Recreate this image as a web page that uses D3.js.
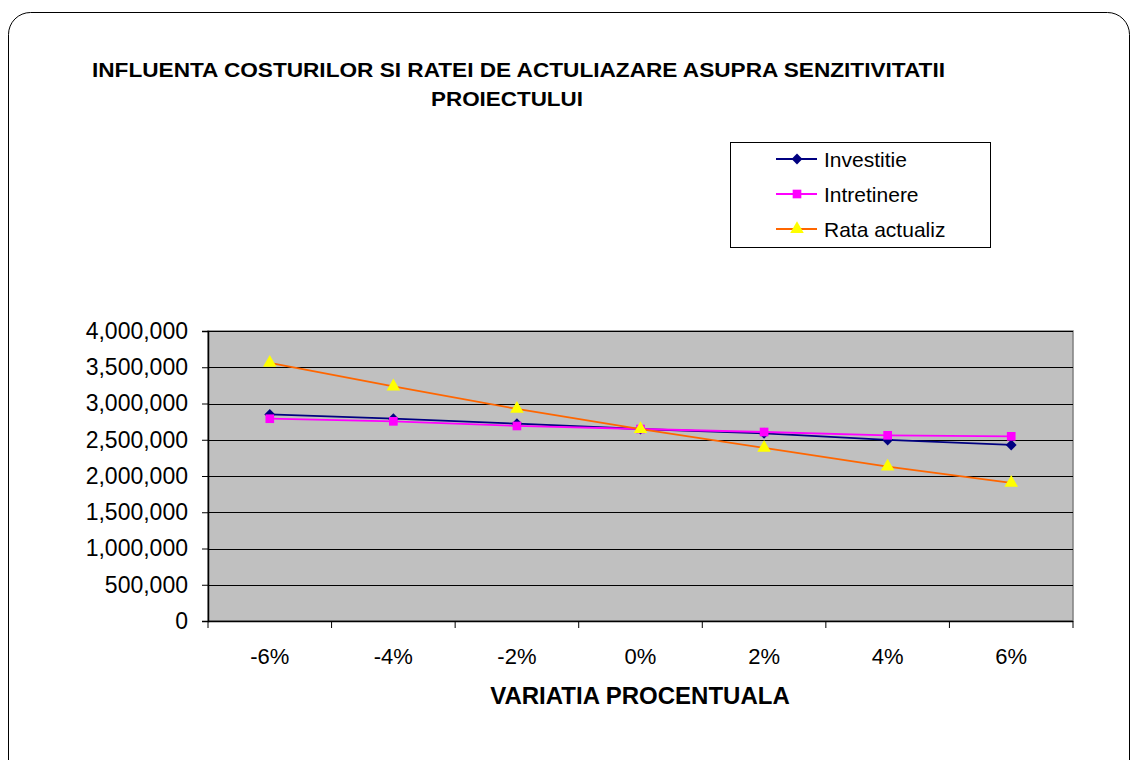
<!DOCTYPE html>
<html>
<head>
<meta charset="utf-8">
<script src="https://cdn.jsdelivr.net/npm/d3@7"></script>
<style>
  body { margin: 0; background: #fff; }
  svg { display: block; font-family: "Liberation Sans", Arial, sans-serif; }
</style>
</head>
<body>
<svg id="chart" width="1135" height="760"></svg>
<script>
const categories = ['-6%', '-4%', '-2%', '0%', '2%', '4%', '6%']
const investitie = [2850000, 2790000, 2722000, 2648000, 2589000, 2497000, 2428000]
const intretinere = [2790000, 2754000, 2690000, 2648000, 2607000, 2561000, 2547000]
const rataActualiz = [3560000, 3235000, 2925000, 2648000, 2388000, 2130000, 1905000]
const yTicks = [0, 500000, 1000000, 1500000, 2000000, 2500000, 3000000, 3500000, 4000000]

const diamondType = d3.symbolDiamond2 || d3.symbolDiamond

const series = [
  { name: 'Investitie', values: investitie, line: '#000080', fill: '#000080', symbol: diamondType, size: 75 },
  { name: 'Intretinere', values: intretinere, line: '#FF00FF', fill: '#FF00FF', symbol: d3.symbolSquare, size: 75 },
  { name: 'Rata actualiz', values: rataActualiz, line: '#FF6600', fill: '#FFFF00', symbol: d3.symbolTriangle, size: 80 }
]

const svg = d3.select('#chart')
const plot = { left: 208, right: 1073, top: 331, bottom: 621 }

// outer chart frame
svg.append('rect')
  .attr('x', 8.5).attr('y', 12.5)
  .attr('width', 1121).attr('height', 790)
  .attr('rx', 22).attr('ry', 22)
  .attr('fill', '#fff').attr('stroke', '#000').attr('stroke-width', 1)

// title
const title = svg.append('text')
  .attr('font-weight', 'bold')
  .attr('font-size', 20)
  .attr('fill', '#000')
title.append('tspan').attr('x', 92).attr('y', 77)
  .attr('textLength', 853).attr('lengthAdjust', 'spacingAndGlyphs')
  .text('INFLUENTA COSTURILOR SI RATEI DE ACTULIAZARE ASUPRA SENZITIVITATII')
title.append('tspan').attr('x', 431).attr('y', 106)
  .attr('textLength', 152).attr('lengthAdjust', 'spacingAndGlyphs')
  .text('PROIECTULUI')

const x = d3.scaleBand()
  .domain(categories)
  .range([plot.left, plot.right])

const y = d3.scaleLinear()
  .domain([0, 4000000])
  .range([plot.bottom, plot.top])

// plot area
svg.append('rect')
  .attr('x', plot.left).attr('y', plot.top)
  .attr('width', plot.right - plot.left).attr('height', plot.bottom - plot.top)
  .attr('fill', '#C0C0C0')
  .attr('stroke', '#808080').attr('stroke-width', 1.5)

// gridlines
svg.append('g')
  .selectAll('line')
  .data(yTicks.filter(d => d > 0))
  .join('line')
  .attr('x1', plot.left).attr('x2', plot.right)
  .attr('y1', d => Math.round(y(d)) + 0.5).attr('y2', d => Math.round(y(d)) + 0.5)
  .attr('stroke', '#000').attr('stroke-width', 1)

// y axis
const yAxis = svg.append('g')
  .attr('transform', `translate(${plot.left},0)`)
  .call(d3.axisLeft(y).tickValues(yTicks).tickSize(6).tickPadding(14)
    .tickFormat(d3.format(',')))
yAxis.select('.domain').attr('stroke', '#000').attr('stroke-width', 1.5)
yAxis.selectAll('.tick line').attr('stroke', '#000')
yAxis.selectAll('.tick text')
  .attr('font-size', 23)
  .attr('font-family', '"Liberation Sans", Arial, sans-serif')
  .attr('fill', '#000')

// x axis, ticks between categories
const boundaries = categories.map(c => x(c)).concat([plot.right])
const xAxis = svg.append('g')
  .attr('transform', `translate(0,${plot.bottom})`)
xAxis.append('line')
  .attr('x1', plot.left).attr('x2', plot.right)
  .attr('y1', 0.5).attr('y2', 0.5)
  .attr('stroke', '#000').attr('stroke-width', 1.5)
xAxis.selectAll('line.tk')
  .data(boundaries)
  .join('line')
  .attr('class', 'tk')
  .attr('x1', d => d).attr('x2', d => d)
  .attr('y1', 0).attr('y2', 7)
  .attr('stroke', '#000')
xAxis.selectAll('text')
  .data(categories)
  .join('text')
  .attr('x', d => x(d) + x.bandwidth() / 2)
  .attr('y', 43)
  .attr('text-anchor', 'middle')
  .attr('font-size', 22)
  .attr('fill', '#000')
  .text(d => d)

svg.append('text')
  .attr('x', 640).attr('y', 704)
  .attr('text-anchor', 'middle')
  .attr('font-weight', 'bold')
  .attr('font-size', 24)
  .text('VARIATIA PROCENTUALA')

// series
const cx = (d, i) => x(categories[i]) + x.bandwidth() / 2
const line = d3.line()
  .x(cx)
  .y(d => y(d))

for (const s of series) {
  svg.append('path')
    .datum(s.values)
    .attr('d', line)
    .attr('fill', 'none')
    .attr('stroke', s.line)
    .attr('stroke-width', 1.8)
  svg.append('g')
    .selectAll('path')
    .data(s.values)
    .join('path')
    .attr('transform', (d, i) => `translate(${cx(d, i)},${y(d)})`)
    .attr('d', d3.symbol().type(s.symbol).size(s.size))
    .attr('fill', s.fill)
}

// legend
const legend = svg.append('g')
legend.append('rect')
  .attr('x', 730.5).attr('y', 142.5)
  .attr('width', 260).attr('height', 105)
  .attr('fill', '#fff').attr('stroke', '#000')
const items = legend.selectAll('g.item')
  .data(series)
  .join('g')
  .attr('class', 'item')
  .attr('transform', (d, i) => `translate(0,${159 + i * 35})`)
items.append('line')
  .attr('x1', 776).attr('x2', 817)
  .attr('y1', 0).attr('y2', 0)
  .attr('stroke', d => d.line).attr('stroke-width', 1.8)
items.append('path')
  .attr('transform', 'translate(797,0)')
  .attr('d', d => d3.symbol().type(d.symbol).size(d.size)())
  .attr('fill', d => d.fill)
items.append('text')
  .attr('x', 824).attr('y', 7.5)
  .attr('font-size', 21)
  .text(d => d.name)
</script>
</body>
</html>
